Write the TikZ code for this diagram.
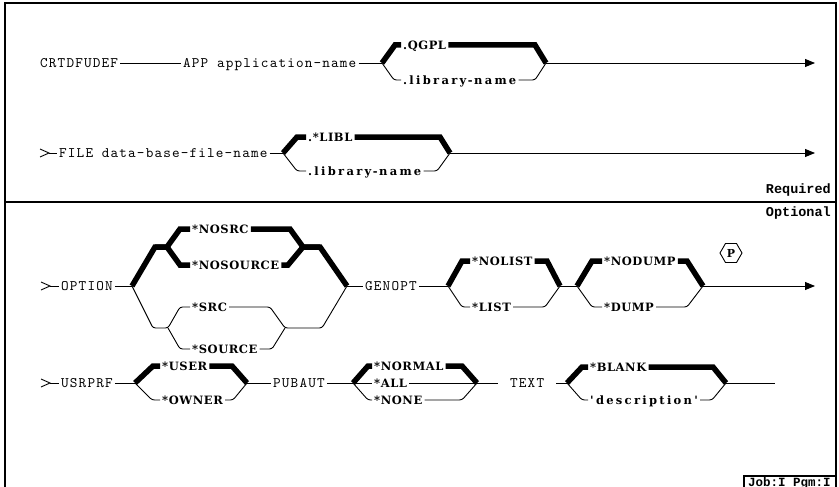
\documentclass[tikz,border=0pt]{standalone}
\usepackage{fontspec}
\usetikzlibrary{arrows.meta,shapes.geometric}
\newfontfamily\kwfont[LetterSpace=8, Extension=.otf]{lmmono10-regular}
\newfontfamily\valfont[LetterSpace=5]{DejaVu Serif}
\newfontfamily\lcfont[LetterSpace=20]{DejaVu Serif}
\newfontfamily\tagfont{Liberation Mono}
\newcommand{\hy}{\kern1.5pt-\kern1.5pt}
\newcommand{\lc}[1]{{\lcfont\bfseries #1}}

\tikzset{
  kw/.style={font={\kwfont\fontsize{14.5}{16}\selectfont},
    anchor=west, inner xsep=2pt, inner ysep=0pt, text height=8.8pt, text depth=0pt},
  val/.style={font={\valfont\bfseries\fontsize{11.5}{13}\selectfont}, anchor=west,
    inner xsep=2pt, inner ysep=0pt, text height=8.4pt, text depth=0pt},
  tag/.style={font={\tagfont\bfseries\fontsize{13.5}{15}\selectfont}, inner sep=0pt},
  rail/.style={line width=0.9pt, rounded corners=2.5pt},
  dflt/.style={line width=5.5pt, line join=miter},
  ent/.style={line width=0.9pt},
  fin/.style={line width=0.9pt, -{Triangle[length=10pt,width=8pt]}},
  frame/.style={line width=1.2pt}
}

\begin{document}
\begin{tikzpicture}[x=1pt, y=-1pt]

    \useasboundingbox (0,0) rectangle (839,487);

    % Frame, split into the required and the optional part
    \draw[frame] (5,487) -- (5,3) -- (836,3) -- (836,487);
    \draw[frame] (5,202) -- (836,202);
    \node[tag, anchor=east] (req) at (831,190) {Required};
    \node[tag, anchor=east] (opt) at (831,213) {Optional};

    % Row 1: command and APP
    \node[kw] (crt) at (38,63) {CRTDFUDEF};
    \node[kw] (app) at (181,63) {APP application-name};
    \coordinate (b1) at (382,63);
    \coordinate (j1) at (546,63);
    \coordinate (e1) at (815,63);
    \node[val] (qgpl) at (401,45) {.QGPL};
    \node[val] (lib1) at (401,80) {\lc{.library\hy name}};
    \draw[rail] (crt.east) -- (app.west);
    \draw[rail] (app.east) -- (b1);
    \draw[dflt] (b1) -- (395,45) -- (qgpl.west);
    \draw[dflt] (qgpl.east) -- (535,45) -- (j1);
    \draw[rail] (b1) -- (394,80) -- (lib1.west);
    \draw[rail] (lib1.east) -- (535,80) -- (j1);
    \draw[fin] (j1) -- (e1);

    % Row 2: FILE
    \draw[ent] (40,149) -- (49,153) -- (40,157);
    \coordinate (s2) at (49,153);
    \node[kw] (file) at (57,153) {FILE data-base-file-name};
    \coordinate (b2) at (283,153);
    \coordinate (j2) at (450,153);
    \coordinate (e2) at (815,153);
    \node[val] (libl) at (306,137) {.*LIBL};
    \node[val] (lib2) at (306,171) {\lc{.library\hy name}};
    \draw[rail] (s2) -- (file.west);
    \draw[rail] (file.east) -- (b2);
    \draw[dflt] (b2) -- (297,137) -- (libl.west);
    \draw[dflt] (libl.east) -- (440,137) -- (j2);
    \draw[rail] (b2) -- (297,171) -- (lib2.west);
    \draw[rail] (lib2.east) -- (437,171) -- (j2);
    \draw[fin] (j2) -- (e2);

    % Row 3: OPTION, GENOPT
    \draw[ent] (41,282) -- (50,286) -- (41,290);
    \coordinate (s3) at (50,286);
    \node[kw] (option) at (59,286) {OPTION};
    \coordinate (b3) at (132,286);
    \coordinate (f3) at (167,247);
    \coordinate (g3) at (303,247);
    \coordinate (f3b) at (168,328);
    \coordinate (g3b) at (285,328);
    \coordinate (j3) at (347,286);
    \node[val] (nosrc) at (190,229) {*NOSRC};
    \node[val] (nosource) at (190,265) {*NOSOURCE};
    \node[val] (src) at (190,307) {*SRC};
    \node[val] (source) at (190,349) {*SOURCE};
    \draw[rail] (s3) -- (option.west);
    \draw[rail] (option.east) -- (b3);
    \draw[dflt] (b3) -- (155,247) -- (f3) -- (180,229) -- (nosrc.west);
    \draw[dflt] (155,247) -- (f3) -- (180,265) -- (nosource.west);
    \draw[dflt] (nosrc.east) -- (290,229) -- (g3) -- (320,247) -- (j3);
    \draw[dflt] (nosource.east) -- (288,265) -- (g3) -- (320,247);
    \draw[rail] (b3) -- (153,328) -- (f3b) -- (180,307) -- (src.west);
    \draw[rail] (f3b) -- (180,349) -- (source.west);
    \draw[rail] (src.east) -- (270,307) -- (g3b) -- (322,328) -- (j3);
    \draw[rail] (source.east) -- (272,349) -- (g3b);

    \node[kw] (genopt) at (363,286) {GENOPT};
    \coordinate (b4) at (448,286);
    \coordinate (j4) at (560,286);
    \coordinate (b5) at (577,286);
    \coordinate (j5) at (703,286);
    \coordinate (e3) at (815,286);
    \node[val] (nolist) at (470,261) {*NOLIST};
    \node[val] (list) at (470,307) {*LIST};
    \node[val] (nodump) at (602,261) {*NODUMP};
    \node[val] (dump) at (602,307) {*DUMP};
    \draw[rail] (j3) -- (genopt.west);
    \draw[rail] (genopt.east) -- (b4);
    \draw[dflt] (b4) -- (462,261) -- (nolist.west);
    \draw[dflt] (nolist.east) -- (547,261) -- (j4);
    \draw[rail] (b4) -- (462,307) -- (list.west);
    \draw[rail] (list.east) -- (545,307) -- (j4);
    \draw[rail] (j4) -- (b5);
    \draw[dflt] (b5) -- (592,261) -- (nodump.west);
    \draw[dflt] (nodump.east) -- (687,261) -- (j5);
    \draw[rail] (b5) -- (592,307) -- (dump.west);
    \draw[rail] (dump.east) -- (687,307) -- (j5);
    \draw[fin] (j5) -- (e3);

    % Positional limit
    \node[regular polygon, regular polygon sides=6, draw, line width=0.9pt,
        minimum size=22pt, inner sep=0pt,
        font={\valfont\bfseries\fontsize{11}{13}\selectfont}] (pos) at (731,253) {P};

    % Row 4: USRPRF, PUBAUT, TEXT
    \draw[ent] (41,379) -- (50,383) -- (41,387);
    \coordinate (s4) at (50,383);
    \node[kw] (usrprf) at (59,383) {USRPRF};
    \coordinate (b6) at (135,383);
    \coordinate (j6) at (247,383);
    \node[val] (user) at (160,366) {*USER};
    \node[val] (owner) at (160,400) {*OWNER};
    \draw[rail] (s4) -- (usrprf.west);
    \draw[rail] (usrprf.east) -- (b6);
    \draw[dflt] (b6) -- (153,366) -- (user.west);
    \draw[dflt] (user.east) -- (232,366) -- (j6);
    \draw[rail] (b6) -- (152,400) -- (owner.west);
    \draw[rail] (owner.east) -- (233,400) -- (j6);

    \node[kw] (pubaut) at (271,383) {PUBAUT};
    \coordinate (b7) at (353,383);
    \coordinate (j7) at (477,383);
    \node[val] (normal) at (372,366) {*NORMAL};
    \node[val] (all) at (372,383) {*ALL};
    \node[val] (none) at (372,400) {*NONE};
    \draw[rail] (j6) -- (pubaut.west);
    \draw[rail] (pubaut.east) -- (b7);
    \draw[dflt] (b7) -- (368,366) -- (normal.west);
    \draw[dflt] (normal.east) -- (462,366) -- (j7);
    \draw[rail] (b7) -- (all.west);
    \draw[rail] (all.east) -- (j7);
    \draw[rail] (b7) -- (368,400) -- (none.west);
    \draw[rail] (none.east) -- (462,400) -- (j7);

    \node[kw, inner xsep=12pt] (text) at (498,383) {TEXT};
    \coordinate (b8) at (567,383);
    \coordinate (j8) at (726,383);
    \coordinate (e4) at (775,383);
    \node[val] (blank) at (588,367) {*BLANK};
    \node[val] (desc) at (588,400) {\lc{'description'}};
    \draw[rail] (j7) -- (text.west);
    \draw[rail] (text.east) -- (b8);
    \draw[dflt] (b8) -- (582,367) -- (blank.west);
    \draw[dflt] (blank.east) -- (713,367) -- (j8);
    \draw[rail] (b8) -- (582,400) -- (desc.west);
    \draw[rail] (desc.east) -- (712,400) -- (j8);
    \draw[rail] (j8) -- (e4);

    % Threadsafe box in the corner
    \node[tag, anchor=base west, font={\tagfont\bfseries\fontsize{12.5}{14}\selectfont}]
        (job) at (748,486) {Job:I Pgm:I};
    \draw[frame] (744,487) |- (836,476);

\end{tikzpicture}
\end{document}
